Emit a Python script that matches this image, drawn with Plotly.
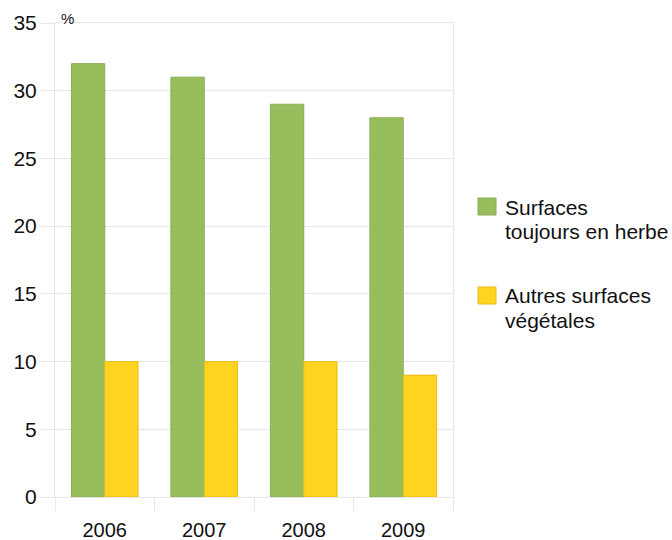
import plotly.graph_objects as go

years = ["2006", "2007", "2008", "2009"]
herbe = [32, 31, 29, 28]
autres = [10, 10, 10, 9]
legend_lines = [["Surfaces", "toujours en herbe"], ["Autres surfaces", "végétales"]]
y_ticks = [0, 5, 10, 15, 20, 25, 30, 35]

GREEN = "#97BD5D"
GREEN_EDGE = "#8AAE55"
YELLOW = "#FFD320"
YELLOW_EDGE = "#E6BD1C"
GRID = "#E6E6E6"
TEXT = "#111111"
FONT = "Liberation Sans, Arial, sans-serif"

# plot-area geometry in pixels, used to place the legend in paper units
W, H = 672, 540
L, R, T, B = 55, 219, 23, 43
PW, PH = W - L - R, H - T - B


def px_x(x):
    return (x - L) / PW


def px_y(y):
    return (H - B - y) / PH


fig = go.Figure()
fig.add_bar(x=years, y=herbe, marker=dict(color=GREEN, line=dict(color=GREEN_EDGE, width=1)),
            showlegend=False)
fig.add_bar(x=years, y=autres, marker=dict(color=YELLOW, line=dict(color=YELLOW_EDGE, width=1)),
            showlegend=False)

shapes = []
annotations = [dict(text="%", x=px_x(59), y=px_y(18), xref="paper", yref="paper",
                    xanchor="left", yanchor="middle", showarrow=False,
                    font=dict(size=15, family=FONT, color=TEXT))]

# legend: square key + two text lines per series
legend_rows = [(GREEN, GREEN_EDGE, 198, [207, 231]), (YELLOW, YELLOW_EDGE, 287, [295, 320])]
for (col, edge, top, line_ys), lines in zip(legend_rows, legend_lines):
    shapes.append(dict(type="rect", xref="paper", yref="paper",
                       x0=px_x(478), x1=px_x(496), y0=px_y(top), y1=px_y(top + 17),
                       fillcolor=col, line=dict(color=edge, width=1)))
    for ly, txt in zip(line_ys, lines):
        annotations.append(dict(text=txt, x=px_x(503), y=px_y(ly), xref="paper", yref="paper",
                                xanchor="left", yanchor="middle", showarrow=False,
                                font=dict(size=21, family=FONT, color=TEXT)))

fig.update_layout(
    width=W, height=H,
    margin=dict(l=L, r=R, t=T, b=B),
    paper_bgcolor="white", plot_bgcolor="white",
    font=dict(family=FONT, size=20, color=TEXT),
    barmode="group", bargap=0.33, bargroupgap=0,
    showlegend=False,
    shapes=shapes,
    annotations=annotations,
)
fig.update_xaxes(showgrid=False, showline=True, linecolor=GRID, linewidth=1, mirror=True,
                 ticks="outside", tickson="boundaries", ticklen=13, tickcolor=GRID,
                 tickfont=dict(size=20), ticklabelstandoff=15, automargin=False)
fig.update_yaxes(range=[0, 35], tickvals=y_ticks, showgrid=True, gridcolor=GRID,
                 showline=True, linecolor=GRID, mirror=True, zeroline=False,
                 ticks="outside", ticklen=13, tickcolor=GRID, tickfont=dict(size=21),
                 automargin=False)

fig.write_html("out.html")
